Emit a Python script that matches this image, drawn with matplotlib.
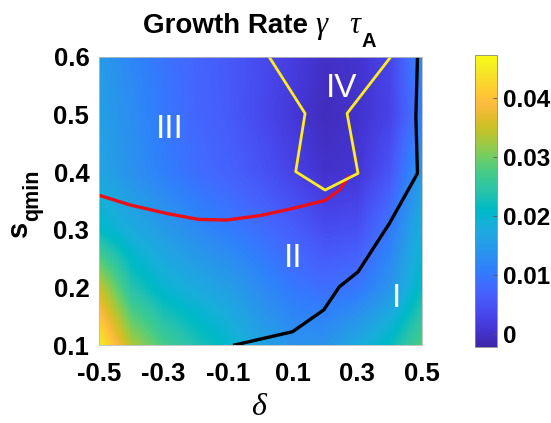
import numpy as np
import matplotlib
matplotlib.use("Agg")
import matplotlib.pyplot as plt
from matplotlib.colors import LinearSegmentedColormap

plt.rcParams["font.family"] = ["Liberation Sans", "DejaVu Sans"]

# MATLAB parula (64 entries)
parula_rgb = [
    [0.2422, 0.1504, 0.6603], [0.2504, 0.1650, 0.7076], [0.2578, 0.1818, 0.7511],
    [0.2647, 0.1978, 0.7952], [0.2706, 0.2147, 0.8364], [0.2751, 0.2342, 0.8710],
    [0.2783, 0.2559, 0.8991], [0.2803, 0.2782, 0.9221], [0.2813, 0.3006, 0.9414],
    [0.2810, 0.3228, 0.9579], [0.2795, 0.3447, 0.9717], [0.2760, 0.3667, 0.9829],
    [0.2699, 0.3892, 0.9906], [0.2602, 0.4123, 0.9952], [0.2440, 0.4358, 0.9988],
    [0.2206, 0.4603, 0.9973], [0.1963, 0.4847, 0.9892], [0.1834, 0.5074, 0.9798],
    [0.1786, 0.5289, 0.9682], [0.1764, 0.5499, 0.9520], [0.1687, 0.5703, 0.9359],
    [0.1540, 0.5902, 0.9218], [0.1460, 0.6091, 0.9079], [0.1380, 0.6276, 0.8973],
    [0.1248, 0.6459, 0.8883], [0.1113, 0.6635, 0.8763], [0.0952, 0.6798, 0.8598],
    [0.0689, 0.6948, 0.8394], [0.0297, 0.7082, 0.8163], [0.0036, 0.7203, 0.7917],
    [0.0067, 0.7312, 0.7660], [0.0433, 0.7411, 0.7394], [0.0964, 0.7500, 0.7120],
    [0.1408, 0.7584, 0.6842], [0.1717, 0.7670, 0.6554], [0.1938, 0.7758, 0.6251],
    [0.2161, 0.7843, 0.5923], [0.2470, 0.7918, 0.5567], [0.2906, 0.7973, 0.5188],
    [0.3406, 0.8008, 0.4789], [0.3909, 0.8029, 0.4354], [0.4456, 0.8024, 0.3909],
    [0.5044, 0.7993, 0.3480], [0.5616, 0.7942, 0.3045], [0.6174, 0.7876, 0.2612],
    [0.6720, 0.7793, 0.2227], [0.7242, 0.7698, 0.1910], [0.7738, 0.7598, 0.1646],
    [0.8203, 0.7498, 0.1535], [0.8634, 0.7406, 0.1596], [0.9035, 0.7330, 0.1774],
    [0.9393, 0.7288, 0.2100], [0.9728, 0.7298, 0.2394], [0.9956, 0.7434, 0.2371],
    [0.9970, 0.7659, 0.2199], [0.9952, 0.7893, 0.2028], [0.9892, 0.8136, 0.1885],
    [0.9786, 0.8386, 0.1766], [0.9676, 0.8639, 0.1643], [0.9610, 0.8890, 0.1537],
    [0.9597, 0.9135, 0.1423], [0.9628, 0.9373, 0.1265], [0.9691, 0.9606, 0.1064],
    [0.9769, 0.9839, 0.0805],
]
parula = LinearSegmentedColormap.from_list("parula", parula_rgb)

# Scan grid
delta = [-0.5, -0.4, -0.3, -0.2, -0.1, 0.0, 0.1, 0.2, 0.3, 0.4, 0.5]
sqmin = [0.1, 0.2, 0.3, 0.4, 0.5, 0.6]

# Growth rate gamma*tau_A, one row per sqmin value
gamma_sq010 = [0.0460, 0.0334, 0.0274, 0.0235, 0.0205, 0.0166, 0.0140, 0.0140, 0.0176, 0.0215, 0.0280]
gamma_sq020 = [0.0350, 0.0240, 0.0197, 0.0176, 0.0156, 0.0126, 0.0100, 0.0087, 0.0097, 0.0140, 0.0215]
gamma_sq030 = [0.0210, 0.0178, 0.0150, 0.0126, 0.0106, 0.0087, 0.0067, 0.0042, 0.0047, 0.0100, 0.0186]
gamma_sq040 = [0.0168, 0.0136, 0.0110, 0.0087, 0.0072, 0.0052, 0.0027, 0.0003, 0.0008, 0.0052, 0.0150]
gamma_sq050 = [0.0158, 0.0130, 0.0100, 0.0077, 0.0062, 0.0037, 0.0013, -0.0007, 0.0003, 0.0027, 0.0110]
gamma_sq060 = [0.0152, 0.0120, 0.0095, 0.0075, 0.0060, 0.0040, 0.0020, 0.0000, 0.0005, 0.0030, 0.0125]

# Regime boundaries
bound_I_delta = [-0.080, 0.099, 0.196, 0.244, 0.302, 0.399, 0.486, 0.481, 0.486]
bound_I_sqmin = [0.100, 0.123, 0.161, 0.201, 0.227, 0.311, 0.398, 0.496, 0.600]

bound_III_delta = [-0.5, -0.403, -0.287, -0.191, -0.104, 0.002, 0.099, 0.200, 0.244, 0.273]
bound_III_sqmin = [0.360, 0.343, 0.328, 0.318, 0.317, 0.325, 0.337, 0.351, 0.369, 0.392]

bound_IV_delta = [0.027, 0.138, 0.109, 0.200, 0.302, 0.268, 0.403]
bound_IV_sqmin = [0.600, 0.502, 0.401, 0.369, 0.398, 0.502, 0.600]

region_names = ["I", "II", "III", "IV"]
region_delta = [0.42, 0.10, -0.28, 0.25]
region_sqmin = [0.18, 0.25, 0.475, 0.545]

W, H = 551, 423
fig = plt.figure(figsize=(W / 100, H / 100), dpi=100)


def fx(px):
    return px / W


def fy(py):
    return (H - py) / H


ax = fig.add_axes([fx(99), fy(345), fx(422) - fx(99), fy(57) - fy(345)])
cax = fig.add_axes([fx(475), fy(347), fx(497) - fx(475), fy(55) - fy(347)])

Z = np.array([gamma_sq010, gamma_sq020, gamma_sq030,
              gamma_sq040, gamma_sq050, gamma_sq060])
dstep = delta[1] - delta[0]
sstep = sqmin[1] - sqmin[0]
img = ax.imshow(Z, origin="lower", cmap=parula, vmin=-0.0022, vmax=0.0472,
                interpolation="bilinear", interpolation_stage="data",
                extent=[delta[0] - dstep / 2, delta[-1] + dstep / 2,
                        sqmin[0] - sstep / 2, sqmin[-1] + sstep / 2],
                aspect="auto")

ax.plot(bound_I_delta, bound_I_sqmin, color="black", lw=2.4)
ax.plot(bound_III_delta, bound_III_sqmin, color=(0.92, 0.06, 0.10), lw=2.4)
ax.plot(bound_IV_delta, bound_IV_sqmin, color=(1.0, 0.93, 0.12), lw=2.0)

for name, dx, sy in zip(region_names, region_delta, region_sqmin):
    ax.text(dx, sy, name, color="white", fontsize=24, ha="center", va="center")

ax.set_xlim(-0.5, 0.5)
ax.set_ylim(0.1, 0.6)
ax.set_xticks([-0.5, -0.3, -0.1, 0.1, 0.3, 0.5])
ax.set_xticklabels(["-0.5", "-0.3", "-0.1", "0.1", "0.3", "0.5"])
ax.set_yticks([0.1, 0.2, 0.3, 0.4, 0.5, 0.6])
ax.set_yticklabels(["0.1", "0.2", "0.3", "0.4", "0.5", "0.6"])
ax.tick_params(axis="x", length=0, labelsize=18.5, pad=12)
ax.tick_params(axis="y", length=0, labelsize=18.5, pad=7)
for lab in ax.get_xticklabels() + ax.get_yticklabels():
    lab.set_fontweight("bold")
for sp in ax.spines.values():
    sp.set_color("#bbbbbb")
    sp.set_linewidth(0.6)

# Title: Growth Rate  gamma tau_A
fig.text(fx(143), fy(33), "Growth Rate", fontsize=20, fontweight="bold",
         ha="left", va="baseline")
fig.text(fx(315), fy(33), "\u03b3", fontsize=22, family="Liberation Serif",
         style="italic", ha="left", va="baseline")
fig.text(fx(349), fy(33), "\u03c4", fontsize=22, family="Liberation Serif",
         style="italic", ha="left", va="baseline")
fig.text(fx(362), fy(47), "A", fontsize=14.5, fontweight="bold",
         ha="left", va="baseline")

# Axis labels
fig.text(fx(258), fy(415), "\u03b4", fontsize=23, family="Liberation Serif",
         style="italic", ha="center", va="baseline")
fig.text(fx(27), fy(229), "s", fontsize=21, fontweight="bold", rotation=90,
         rotation_mode="anchor", ha="center", va="baseline")
fig.text(fx(38), fy(195), "qmin", fontsize=15.5, fontweight="bold", rotation=90,
         rotation_mode="anchor", ha="center", va="baseline")

cb = fig.colorbar(img, cax=cax)
cb.set_ticks([0, 0.01, 0.02, 0.03, 0.04])
cb.set_ticklabels(["0", "0.01", "0.02", "0.03", "0.04"])
cb.ax.tick_params(direction="in", length=3, width=0.6, color="#555555",
                  labelsize=17.5, pad=4)
for lab in cb.ax.get_yticklabels():
    lab.set_fontweight("bold")
cb.outline.set_edgecolor("#888888")
cb.outline.set_linewidth(0.6)

fig.savefig("out.png", dpi=100)
